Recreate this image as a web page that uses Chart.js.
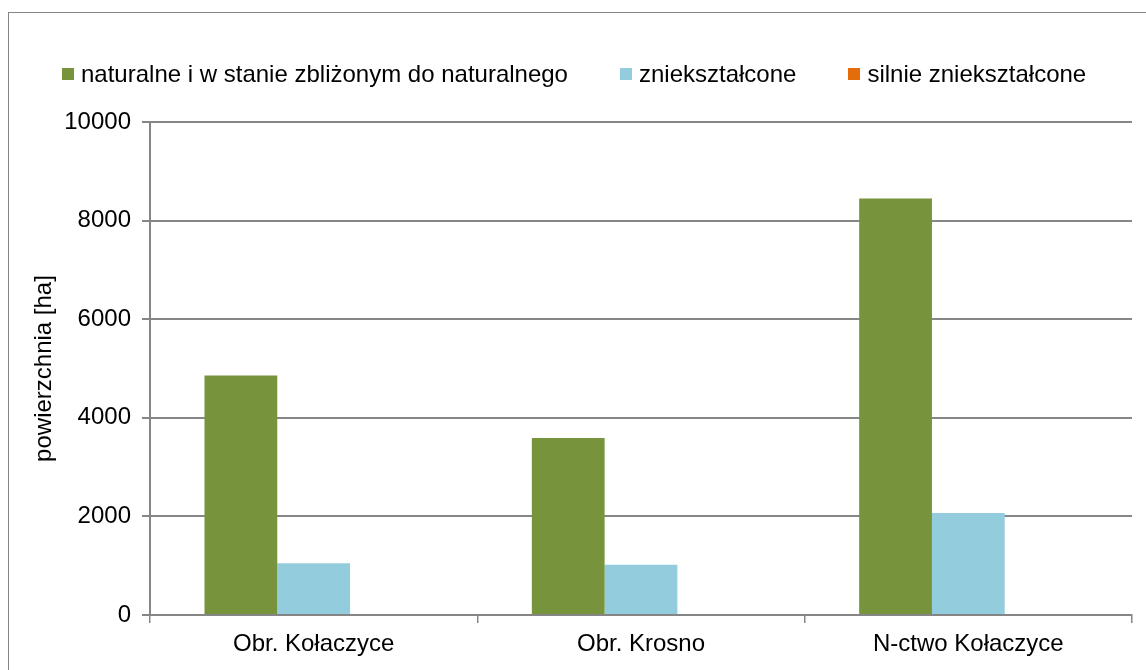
<!DOCTYPE html>
<html>
<head>
<meta charset="utf-8">
<script src="https://cdn.jsdelivr.net/npm/chart.js@4.4.0/dist/chart.umd.min.js"></script>
<style>
  html, body { margin: 0; padding: 0; background: #ffffff; }
  #wrap { position: relative; width: 1146px; height: 670px; overflow: hidden; }
  #frame { position: absolute; left: 8px; top: 12px; width: 1200px; height: 700px; border: 1px solid #868686; box-sizing: border-box; }
  #c { position: absolute; left: 0; top: 0; }
  #legend { position: absolute; left: 62px; top: 61px; height: 26px; display: flex; align-items: center;
            font-family: 'Liberation Sans', Arial, sans-serif; font-size: 24px; color: #000; white-space: nowrap; }
  .item { display: flex; align-items: center; margin-right: 52px; }
  .item:last-child { margin-right: 0; }
  .box { width: 12px; height: 12px; margin-right: 7px; }
</style>
</head>
<body>
<div id="wrap">
  <div id="frame"></div>
  <canvas id="c" width="1146" height="670"></canvas>
  <div id="legend"></div>
</div>
<script>
const categories = ['Obr. Kołaczyce', 'Obr. Krosno', 'N-ctwo Kołaczyce'];
const seriesNames = ['naturalne i w stanie zbliżonym do naturalnego', 'zniekształcone', 'silnie zniekształcone'];
const naturalValues = [4860, 3590, 8450];
const distortedValues = [1050, 1020, 2070];
const stronglyDistortedValues = [0, 0, 0];
const yTicks = [0, 2000, 4000, 6000, 8000, 10000];
const yTitle = 'powierzchnia [ha]';
const seriesColors = ['#77933C', '#93CDDD', '#E46C0A'];

const FONT = "'Liberation Sans', Arial, sans-serif";
const GRID = '#868686';

const seriesValues = [naturalValues, distortedValues, stronglyDistortedValues];

const chart = new Chart(document.getElementById('c'), {
  type: 'bar',
  data: {
    labels: categories,
    datasets: seriesNames.map((name, i) => ({ label: name, data: seriesValues[i], backgroundColor: seriesColors[i] }))
  },
  options: {
    responsive: false,
    animation: false,
    devicePixelRatio: 1,
    layout: { padding: { left: 0, right: 14, top: 122, bottom: 0 } },
    datasets: { bar: { barPercentage: 1.0, categoryPercentage: 0.667, borderWidth: 0 } },
    plugins: {
      tooltip: { enabled: false },
      legend: { display: false }
    },
    scales: {
      x: {
        grid: { display: true, drawOnChartArea: false, drawTicks: true, tickLength: 8, color: GRID, lineWidth: 1.5, offset: true },
        border: { display: true, color: GRID, width: 2 },
        ticks: { color: '#000', font: { family: FONT, size: 24 }, padding: 7, maxRotation: 0 },
        afterFit: s => { s.height = 55; }
      },
      y: {
        min: 0, max: 10000,
        afterBuildTicks: s => { s.ticks = yTicks.map(v => ({ value: v })); },
        grid: { color: GRID, lineWidth: 2, tickLength: 8 },
        border: { display: true, color: GRID, width: 2 },
        ticks: { color: '#000', font: { family: FONT, size: 24 }, padding: 11, callback: v => String(v) },
        title: { display: true, text: yTitle, color: '#000', font: { family: FONT, size: 24 }, padding: { top: 30, bottom: 0 } },
        afterFit: s => { s.width = 150; }
      }
    }
  }
});

// HTML legend built from the chart's datasets
const legendEl = document.getElementById('legend');
chart.data.datasets.forEach(ds => {
  const item = document.createElement('div');
  item.className = 'item';
  const box = document.createElement('span');
  box.className = 'box';
  box.style.background = ds.backgroundColor;
  const txt = document.createElement('span');
  txt.textContent = ds.label;
  item.appendChild(box);
  item.appendChild(txt);
  legendEl.appendChild(item);
});
</script>
</body>
</html>
